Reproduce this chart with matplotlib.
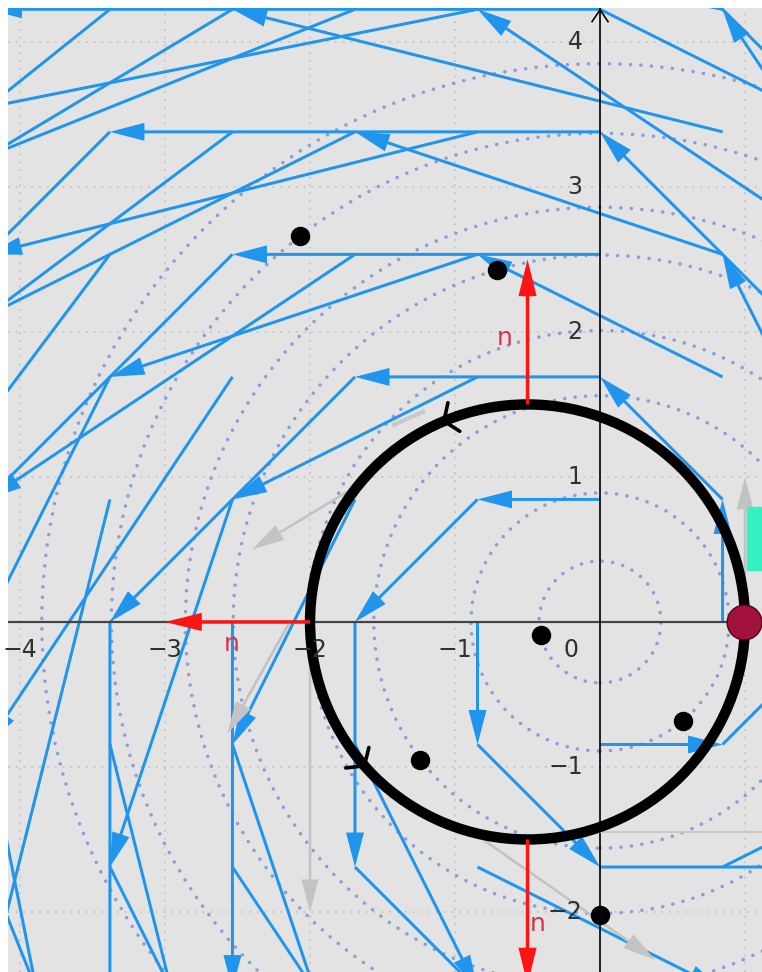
import numpy as np
import matplotlib.pyplot as plt
from matplotlib.patches import Circle, Rectangle

# field arrows on a grid (spacing ~0.845)
grid_x = [-4.225, -3.38, -2.535, -1.69, -0.845, 0.0, 0.845, 1.69, 2.535]
grid_y = [-1.69, -0.845, 0.0, 0.845, 1.69, 2.535, 3.38, 4.225]
# horizontal part of the arrows in each row, vertical part in each column
row_u = [1.69, 0.845, 0.0, -0.845, -1.69, -2.535, -3.38, -4.225]
col_v = [-4.225, -3.38, -2.535, -1.69, -0.845, 0.0, 0.845, 1.69, 2.535]

# dotted orbits round the origin
orbit_r = [0.42, 0.89, 1.56, 2.01, 2.53, 2.86, 3.37, 3.85]

# particles
dots_x = [-2.07, -0.71, -0.41, -1.24, 0.57, 0.0]
dots_y = [2.66, 2.43, -0.09, -0.95, -0.68, -2.02]

# curve C and normals n
circ_center = (-0.5, 0.0)
circ_r = 1.5
n_x = [-0.5, -2.0, -0.5]
n_y = [1.5, 0.0, -1.5]
n_u = [0.0, -1.0, 0.0]
n_v = [1.0, 0.0, -1.0]
n_lab_x = [-0.66, -2.54, -0.43]
n_lab_y = [1.96, -0.15, -2.08]

# orientation marks on C (degrees round the centre)
mark_deg = [112.6, 221.4]

# grey vectors
grey_x0 = [-0.85, -2.0, -1.69, -2.14, 1.0]
grey_y0 = [-1.47, 0.0, 0.93, 0.0, 0.0]
grey_x1 = [0.38, -2.0, -2.4, -2.57, 1.0]
grey_y1 = [-2.33, -2.0, 0.5, -0.77, 1.0]

xticks = [-4, -3, -2, -1]
yticks = [-2, -1, 1, 2, 3, 4]

blue = '#1f95ee'

fig = plt.figure(figsize=(7.62, 9.72), dpi=100)
ax = fig.add_axes([8 / 762, 0, 754 / 762, 964 / 972])
ax.set_xlim(-4.083, 1.117)
ax.set_ylim(-2.414, 4.234)
ax.set_facecolor('#e3e3e3')
ax.set_xticks([])
ax.set_yticks([])
for s in ax.spines.values():
    s.set_visible(False)

# grid
for k in range(-4, 2):
    ax.axvline(k, color='#c8c8c8', lw=1.4, ls=(0, (1, 3)), zorder=0.5)
for k in range(-2, 5):
    ax.axhline(k, color='#c8c8c8', lw=1.4, ls=(0, (1, 3)), zorder=0.5)

# dotted orbits
for r in orbit_r:
    ax.add_patch(Circle((0, 0), r, fill=False, lw=2.6, ls=(0, (0.01, 2.9)),
                        color='#8e9dda', capstyle='round', zorder=1))

# field arrows
X, Y = np.meshgrid(grid_x, grid_y)
U = np.tile(np.array(row_u)[:, None], (1, len(grid_x)))
V = np.tile(np.array(col_v)[None, :], (len(grid_y), 1))
m = (U != 0) | (V != 0)
ax.quiver(X[m], Y[m], U[m], V[m], angles='xy', scale_units='xy', scale=1,
          units='dots', width=3, headwidth=6, headlength=11.5,
          headaxislength=11.5, color=blue, zorder=2)

# axes
ax.axhline(0, color='#444444', lw=1.6, zorder=2.6)
ax.axvline(0, color='black', lw=1.2, zorder=2.6)
ax.plot([-0.055, 0, 0.055], [4.14, 4.222, 4.14], color='black', lw=1.2,
        zorder=2.6)

# grey vectors
gx0 = np.array(grey_x0)
gy0 = np.array(grey_y0)
ax.quiver(gx0, gy0, np.array(grey_x1) - gx0, np.array(grey_y1) - gy0,
          angles='xy', scale_units='xy', scale=1, units='dots', width=2.6,
          headwidth=6.5, headlength=12.5, headaxislength=12.5,
          color='#c3c3c3', zorder=2.8)
ax.plot([-1.42, -1.22], [1.36, 1.45], color='#c8c8c8', lw=3, zorder=2.8)
ax.plot([-0.1, 1.2], [-1.45, -1.45], color='#c8c8c8', lw=1.4, zorder=2.8)

# curve C
ax.add_patch(Circle(circ_center, circ_r, fill=False, lw=7.5, color='black',
                    zorder=4))
for d in mark_deg:
    t = np.radians(d)
    px = circ_center[0] + circ_r * np.cos(t)
    py = circ_center[1] + circ_r * np.sin(t)
    back = np.array([np.sin(t), -np.cos(t)])
    out = np.array([np.cos(t), np.sin(t)])
    for sgn in (1, -1):
        dvec = 0.13 * (0.57 * back + sgn * 0.82 * out)
        ax.plot([px, px + dvec[0]], [py, py + dvec[1]], color='black',
                lw=2.6, solid_capstyle='round', zorder=4)

# normals
ax.quiver(n_x, n_y, n_u, n_v, angles='xy', scale_units='xy', scale=1,
          units='dots', width=3.5, headwidth=5.2, headlength=10.5,
          headaxislength=10.5, color='#ff1414', zorder=5)
for lx, ly in zip(n_lab_x, n_lab_y):
    ax.text(lx, ly, 'n', color='#d8324a', fontsize=18, ha='center',
            va='center', zorder=8)

# teal box and points
ax.add_patch(Rectangle((1.014, 0.359), 0.2, 0.434, color='#35f0c0',
                       zorder=6))
ax.plot(dots_x, dots_y, 'o', ms=13, color='black', zorder=7)
ax.plot([0.99], [0.0], 'o', ms=25, mfc='#a3123d', mec='#4a0a18', mew=1,
        zorder=7)

# tick labels
for k in xticks:
    ax.text(k, -0.19, '\u2212%d' % -k, fontsize=17, color='#303030',
            ha='center', va='center', zorder=8)
ax.text(-0.2, -0.19, '0', fontsize=17, color='#303030', ha='center',
        va='center', zorder=8)
for k in yticks:
    lab = str(k) if k > 0 else '\u2212%d' % -k
    ax.text(-0.12, k, lab, fontsize=17, color='#303030', ha='right',
            va='center', zorder=8)

fig.savefig('out.png', dpi=100, facecolor='white')
